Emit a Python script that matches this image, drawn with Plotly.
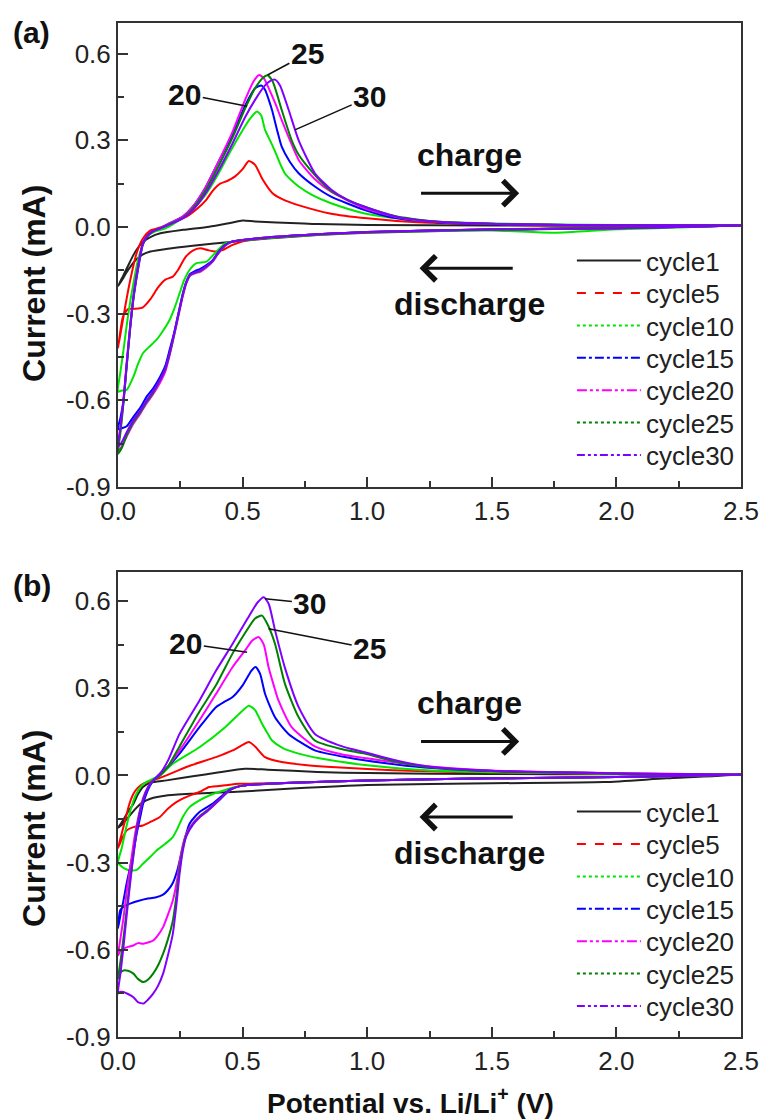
import plotly.graph_objects as go

FONT = "Liberation Sans, Arial, sans-serif"

CYCLES = ["cycle1", "cycle5", "cycle10", "cycle15", "cycle20", "cycle25", "cycle30"]
COLORS = ["#222222", "#ff0000", "#00e600", "#0000ff", "#ff00ff", "#008000", "#8000ff"]
DASHES = ["solid", "dash", "dot", "dashdot", "10px,3px,3px,3px,3px,3px", "3px,3px", "8px,3px,3px,3px,3px,3px"]

X_TICKS = [0.0, 0.5, 1.0, 1.5, 2.0, 2.5]
X_TICKTEXT = ["0.0", "0.5", "1.0", "1.5", "2.0", "2.5"]
Y_TICKS = [-0.9, -0.6, -0.3, 0.0, 0.3, 0.6]
Y_TICKTEXT = ["-0.9", "-0.6", "-0.3", "0.0", "0.3", "0.6"]

# ---------------- panel (a) : each loop = discharge (2.5 -> 0 V) then charge (0 -> 2.5 V)
A1_X = [2.5, 2.0, 1.5, 1.0, 0.8, 0.6, 0.45, 0.3, 0.2, 0.13, 0.1, 0.07, 0.04, 0.015, 0.0,
        0.02, 0.04, 0.06, 0.08, 0.1, 0.13, 0.17, 0.26, 0.366, 0.45, 0.5, 0.55, 0.72, 0.8, 1.0, 1.5, 2.0, 2.5]
A1_Y = [0.005, -0.004, -0.01, -0.02, -0.028, -0.04, -0.052, -0.065, -0.075, -0.085, -0.095, -0.115, -0.15, -0.185, -0.205,
        -0.17, -0.135, -0.1, -0.072, -0.052, -0.035, -0.022, -0.01, 0.001, 0.014, 0.022, 0.019, 0.013, 0.01, 0.007, 0.005, 0.004, 0.005]

A5_X = [2.5, 2.0, 1.5, 1.0, 0.8, 0.6, 0.52, 0.46, 0.42, 0.39, 0.36, 0.33, 0.3, 0.27, 0.24, 0.22, 0.19, 0.16, 0.13, 0.1, 0.07, 0.04, 0.02, 0.008, 0.0,
        0.015, 0.03, 0.05, 0.075, 0.1, 0.13, 0.17, 0.22, 0.275, 0.32, 0.355, 0.38, 0.41, 0.44, 0.47, 0.5, 0.525, 0.55, 0.58, 0.62, 0.67, 0.73, 0.85, 1.0, 1.2, 1.5, 2.0, 2.5]
A5_Y = [0.005, -0.003, -0.008, -0.018, -0.026, -0.038, -0.045, -0.062, -0.08, -0.085, -0.08, -0.074, -0.082, -0.105, -0.15, -0.172, -0.182, -0.21, -0.25, -0.278, -0.283, -0.284, -0.31, -0.37, -0.42,
        -0.345, -0.27, -0.18, -0.09, -0.04, -0.012, -0.002, 0.015, 0.036, 0.065, 0.095, 0.125, 0.15, 0.16, 0.175, 0.2, 0.228, 0.215, 0.165, 0.117, 0.092, 0.074, 0.047, 0.03, 0.016, 0.009, 0.006, 0.005]

A10_X = [2.5, 2.0, 1.75, 1.5, 1.0, 0.8, 0.6, 0.5, 0.43, 0.39, 0.355, 0.313, 0.287, 0.265, 0.247, 0.227, 0.207, 0.18, 0.155, 0.125, 0.1, 0.08, 0.062, 0.035, 0.015, 0.0,
         0.01, 0.022, 0.035, 0.05, 0.065, 0.08, 0.1, 0.12, 0.15, 0.19, 0.24, 0.3, 0.35, 0.4, 0.45, 0.5, 0.53, 0.558, 0.575, 0.59, 0.61, 0.63, 0.65, 0.67, 0.7, 0.725, 0.78, 0.855, 0.99, 1.2, 1.5, 2.0, 2.5]
A10_Y = [0.005, -0.008, -0.02, -0.012, -0.018, -0.027, -0.038, -0.046, -0.057, -0.09, -0.12, -0.126, -0.149, -0.185, -0.23, -0.28, -0.322, -0.36, -0.39, -0.415, -0.437, -0.475, -0.518, -0.564, -0.566, -0.57,
         -0.5, -0.426, -0.34, -0.253, -0.18, -0.114, -0.06, -0.03, -0.015, -0.005, 0.02, 0.06, 0.11, 0.18, 0.26, 0.335, 0.375, 0.4, 0.385, 0.336, 0.3, 0.262, 0.22, 0.185, 0.158, 0.14, 0.11, 0.082, 0.047, 0.022, 0.012, 0.007, 0.005]

A15_X = [2.5, 2.0, 1.5, 1.0, 0.8, 0.6, 0.5, 0.46, 0.43, 0.4, 0.38, 0.355, 0.33, 0.31, 0.29, 0.274, 0.26, 0.247, 0.227, 0.207, 0.19, 0.168, 0.14, 0.115, 0.09, 0.062, 0.035, 0.015, 0.0,
         0.01, 0.022, 0.035, 0.05, 0.065, 0.08, 0.1, 0.12, 0.14, 0.168, 0.2, 0.26, 0.3, 0.35, 0.4, 0.46, 0.51, 0.55, 0.575, 0.59, 0.605, 0.618, 0.64, 0.657, 0.69, 0.725, 0.79, 0.855, 0.99, 1.12, 1.3, 1.6, 2.0, 2.5]
A15_Y = [0.005, -0.004, -0.009, -0.017, -0.025, -0.036, -0.045, -0.05, -0.062, -0.09, -0.115, -0.132, -0.145, -0.152, -0.162, -0.19, -0.23, -0.28, -0.36, -0.426, -0.48, -0.52, -0.56, -0.587, -0.625, -0.657, -0.69, -0.697, -0.70,
         -0.66, -0.6, -0.48, -0.34, -0.23, -0.149, -0.06, -0.03, -0.015, -0.005, 0.01, 0.036, 0.07, 0.135, 0.22, 0.32, 0.42, 0.48, 0.49, 0.475, 0.44, 0.405, 0.33, 0.278, 0.225, 0.186, 0.14, 0.105, 0.059, 0.03, 0.015, 0.008, 0.006, 0.005]

A20_X = [2.5, 2.0, 1.5, 1.0, 0.8, 0.6, 0.5, 0.46, 0.43, 0.4, 0.38, 0.355, 0.33, 0.31, 0.29, 0.274, 0.26, 0.247, 0.227, 0.207, 0.19, 0.168, 0.14, 0.115, 0.09, 0.062, 0.035, 0.015, 0.0,
         0.01, 0.022, 0.035, 0.05, 0.065, 0.08, 0.1, 0.12, 0.14, 0.168, 0.2, 0.26, 0.3, 0.35, 0.4, 0.46, 0.51, 0.545, 0.566, 0.585, 0.605, 0.63, 0.657, 0.69, 0.725, 0.79, 0.855, 0.99, 1.12, 1.3, 1.6, 2.0, 2.5]
A20_Y = [0.005, -0.004, -0.009, -0.017, -0.025, -0.036, -0.045, -0.05, -0.065, -0.095, -0.12, -0.14, -0.155, -0.16, -0.168, -0.195, -0.24, -0.29, -0.37, -0.445, -0.5, -0.54, -0.58, -0.61, -0.645, -0.68, -0.725, -0.76, -0.775,
         -0.7, -0.6, -0.47, -0.33, -0.22, -0.14, -0.055, -0.028, -0.014, -0.005, 0.01, 0.036, 0.07, 0.135, 0.22, 0.33, 0.44, 0.505, 0.526, 0.515, 0.48, 0.43, 0.37, 0.3, 0.232, 0.165, 0.122, 0.065, 0.034, 0.016, 0.009, 0.006, 0.005]

A25_X = [2.5, 2.0, 1.5, 1.0, 0.8, 0.6, 0.5, 0.46, 0.43, 0.4, 0.38, 0.355, 0.33, 0.31, 0.29, 0.274, 0.26, 0.247, 0.227, 0.207, 0.19, 0.168, 0.14, 0.115, 0.09, 0.062, 0.035, 0.015, 0.0,
         0.01, 0.022, 0.035, 0.05, 0.065, 0.08, 0.1, 0.12, 0.14, 0.168, 0.2, 0.26, 0.3, 0.35, 0.4, 0.46, 0.51, 0.55, 0.58, 0.6, 0.62, 0.657, 0.697, 0.725, 0.79, 0.855, 0.92, 0.99, 1.12, 1.3, 1.6, 2.0, 2.5]
A25_Y = [0.005, -0.004, -0.009, -0.017, -0.025, -0.036, -0.045, -0.05, -0.064, -0.093, -0.118, -0.137, -0.152, -0.158, -0.166, -0.193, -0.235, -0.285, -0.365, -0.44, -0.49, -0.53, -0.575, -0.605, -0.64, -0.675, -0.72, -0.765, -0.785,
         -0.71, -0.61, -0.48, -0.34, -0.225, -0.142, -0.056, -0.028, -0.014, -0.005, 0.008, 0.032, 0.063, 0.125, 0.205, 0.31, 0.41, 0.48, 0.515, 0.525, 0.505, 0.405, 0.3, 0.25, 0.18, 0.125, 0.095, 0.07, 0.036, 0.017, 0.009, 0.006, 0.005]

A30_X = [2.5, 2.0, 1.5, 1.0, 0.8, 0.6, 0.5, 0.46, 0.43, 0.4, 0.38, 0.355, 0.33, 0.31, 0.29, 0.274, 0.26, 0.247, 0.227, 0.207, 0.19, 0.168, 0.14, 0.115, 0.09, 0.062, 0.035, 0.015, 0.0,
         0.01, 0.022, 0.035, 0.05, 0.065, 0.08, 0.1, 0.12, 0.14, 0.168, 0.2, 0.26, 0.3, 0.35, 0.4, 0.46, 0.51, 0.55, 0.59, 0.61, 0.63, 0.65, 0.685, 0.725, 0.79, 0.855, 0.922, 0.99, 1.12, 1.3, 1.6, 2.0, 2.5]
A30_Y = [0.005, -0.004, -0.009, -0.017, -0.025, -0.036, -0.045, -0.05, -0.063, -0.092, -0.117, -0.136, -0.15, -0.157, -0.165, -0.192, -0.235, -0.285, -0.362, -0.437, -0.49, -0.53, -0.57, -0.6, -0.635, -0.668, -0.71, -0.745, -0.76,
         -0.69, -0.6, -0.47, -0.335, -0.222, -0.14, -0.056, -0.028, -0.014, -0.005, 0.006, 0.03, 0.058, 0.115, 0.19, 0.29, 0.38, 0.44, 0.49, 0.505, 0.51, 0.49, 0.405, 0.3, 0.186, 0.13, 0.093, 0.07, 0.035, 0.017, 0.009, 0.006, 0.005]

# ---------------- panel (b)
B1_X = [2.5, 2.2, 1.95, 1.5, 1.0, 0.7, 0.46, 0.3, 0.195, 0.13, 0.1, 0.07, 0.04, 0.015, 0.0,
        0.02, 0.04, 0.062, 0.08, 0.1, 0.13, 0.195, 0.3, 0.4, 0.51, 0.6, 0.8, 1.0, 1.5, 2.0, 2.5]
B1_Y = [0.003, -0.01, -0.023, -0.027, -0.033, -0.045, -0.057, -0.063, -0.069, -0.08, -0.092, -0.115, -0.145, -0.17, -0.18,
        -0.155, -0.125, -0.097, -0.065, -0.04, -0.025, -0.017, -0.003, 0.01, 0.023, 0.02, 0.012, 0.008, 0.005, 0.004, 0.003]

B5_X = [2.5, 2.0, 1.5, 1.0, 0.7, 0.55, 0.485, 0.43, 0.366, 0.327, 0.28, 0.234, 0.2, 0.168, 0.13, 0.1, 0.062, 0.035, 0.015, 0.0,
        0.015, 0.03, 0.045, 0.062, 0.08, 0.1, 0.14, 0.195, 0.274, 0.393, 0.46, 0.5, 0.525, 0.55, 0.59, 0.657, 0.75, 0.855, 1.0, 1.2, 1.5, 2.0, 2.5]
B5_Y = [0.003, -0.005, -0.01, -0.017, -0.025, -0.028, -0.029, -0.034, -0.04, -0.057, -0.072, -0.092, -0.115, -0.143, -0.16, -0.172, -0.178, -0.189, -0.22, -0.25,
        -0.2, -0.15, -0.1, -0.063, -0.042, -0.029, -0.017, 0.0, 0.029, 0.063, 0.086, 0.105, 0.115, 0.1, 0.063, 0.046, 0.036, 0.029, 0.022, 0.015, 0.01, 0.006, 0.003]

B10_X = [2.5, 2.0, 1.5, 1.0, 0.7, 0.5, 0.43, 0.366, 0.327, 0.287, 0.26, 0.24, 0.22, 0.19, 0.155, 0.13, 0.1, 0.075, 0.05, 0.025, 0.01, 0.0,
         0.015, 0.03, 0.05, 0.07, 0.09, 0.11, 0.14, 0.17, 0.22, 0.327, 0.43, 0.49, 0.525, 0.55, 0.578, 0.6, 0.618, 0.66, 0.725, 0.855, 1.0, 1.2, 1.5, 2.0, 2.5]
B10_Y = [0.003, -0.005, -0.01, -0.017, -0.025, -0.035, -0.05, -0.069, -0.086, -0.109, -0.143, -0.18, -0.212, -0.235, -0.258, -0.28, -0.304, -0.325, -0.327, -0.32, -0.31, -0.30,
         -0.25, -0.19, -0.12, -0.07, -0.04, -0.025, -0.012, 0.0, 0.04, 0.097, 0.166, 0.215, 0.24, 0.225, 0.178, 0.145, 0.12, 0.095, 0.075, 0.052, 0.035, 0.02, 0.011, 0.006, 0.003]

B15_X = [2.5, 2.0, 1.5, 1.0, 0.7, 0.5, 0.45, 0.38, 0.327, 0.287, 0.26, 0.24, 0.22, 0.2, 0.181, 0.15, 0.115, 0.08, 0.049, 0.025, 0.009, 0.0,
         0.01, 0.022, 0.035, 0.049, 0.062, 0.075, 0.09, 0.1, 0.12, 0.14, 0.168, 0.2, 0.247, 0.327, 0.393, 0.43, 0.46, 0.5, 0.535, 0.552, 0.57, 0.59, 0.63, 0.684, 0.79, 0.9, 0.988, 1.2, 1.5, 2.0, 2.5]
B15_Y = [0.003, -0.005, -0.01, -0.017, -0.025, -0.035, -0.048, -0.097, -0.126, -0.166, -0.247, -0.32, -0.37, -0.395, -0.41, -0.42, -0.424, -0.432, -0.441, -0.45, -0.464, -0.527,
         -0.48, -0.43, -0.37, -0.315, -0.26, -0.2, -0.14, -0.1, -0.05, -0.02, 0.006, 0.03, 0.075, 0.166, 0.235, 0.255, 0.27, 0.31, 0.36, 0.373, 0.35, 0.281, 0.2, 0.143, 0.086, 0.065, 0.052, 0.03, 0.015, 0.007, 0.003]

B20_X = [2.5, 2.0, 1.5, 1.0, 0.7, 0.5, 0.45, 0.4, 0.36, 0.33, 0.3, 0.274, 0.26, 0.247, 0.235, 0.22, 0.2, 0.181, 0.16, 0.141, 0.12, 0.102, 0.08, 0.062, 0.04, 0.022, 0.008, 0.0,
         0.01, 0.022, 0.035, 0.05, 0.065, 0.08, 0.1, 0.12, 0.14, 0.168, 0.2, 0.247, 0.327, 0.393, 0.46, 0.51, 0.54, 0.565, 0.585, 0.604, 0.625, 0.644, 0.697, 0.79, 0.9, 0.99, 1.2, 1.5, 2.0, 2.5]
B20_Y = [0.003, -0.005, -0.01, -0.017, -0.025, -0.035, -0.05, -0.088, -0.118, -0.138, -0.165, -0.2, -0.24, -0.3, -0.37, -0.43, -0.48, -0.522, -0.55, -0.568, -0.575, -0.579, -0.577, -0.585, -0.59, -0.596, -0.605, -0.62,
         -0.56, -0.49, -0.4, -0.31, -0.22, -0.15, -0.08, -0.04, -0.018, 0.0, 0.03, 0.086, 0.19, 0.28, 0.373, 0.43, 0.465, 0.476, 0.45, 0.373, 0.31, 0.258, 0.166, 0.1, 0.072, 0.06, 0.035, 0.017, 0.008, 0.003]

B25_X = [2.5, 2.0, 1.5, 1.0, 0.7, 0.5, 0.45, 0.4, 0.36, 0.33, 0.3, 0.274, 0.26, 0.247, 0.235, 0.22, 0.2, 0.181, 0.16, 0.141, 0.12, 0.102, 0.08, 0.062, 0.04, 0.022, 0.008, 0.0,
         0.01, 0.022, 0.035, 0.05, 0.065, 0.08, 0.1, 0.12, 0.14, 0.168, 0.2, 0.247, 0.327, 0.393, 0.46, 0.51, 0.55, 0.578, 0.6, 0.63, 0.67, 0.725, 0.79, 0.9, 0.99, 1.1, 1.25, 1.5, 2.0, 2.5]
B25_Y = [0.003, -0.005, -0.01, -0.017, -0.025, -0.035, -0.05, -0.09, -0.12, -0.14, -0.168, -0.205, -0.25, -0.32, -0.41, -0.5, -0.565, -0.613, -0.655, -0.682, -0.703, -0.711, -0.7, -0.682, -0.672, -0.671, -0.68, -0.70,
         -0.64, -0.56, -0.46, -0.35, -0.25, -0.16, -0.085, -0.042, -0.018, 0.0, 0.03, 0.1, 0.22, 0.31, 0.42, 0.49, 0.54, 0.55, 0.52, 0.453, 0.315, 0.2, 0.12, 0.09, 0.075, 0.05, 0.028, 0.015, 0.007, 0.003]

B30_X = [2.5, 2.0, 1.5, 1.0, 0.7, 0.5, 0.45, 0.4, 0.36, 0.33, 0.3, 0.274, 0.26, 0.247, 0.235, 0.22, 0.2, 0.181, 0.16, 0.141, 0.12, 0.102, 0.08, 0.062, 0.04, 0.022, 0.008, 0.0,
         0.01, 0.022, 0.035, 0.05, 0.065, 0.08, 0.1, 0.12, 0.14, 0.168, 0.2, 0.247, 0.327, 0.393, 0.46, 0.52, 0.56, 0.585, 0.605, 0.63, 0.67, 0.725, 0.79, 0.9, 0.99, 1.1, 1.25, 1.5, 2.0, 2.5]
B30_Y = [0.003, -0.005, -0.01, -0.017, -0.025, -0.035, -0.05, -0.09, -0.122, -0.142, -0.17, -0.21, -0.26, -0.34, -0.44, -0.545, -0.62, -0.682, -0.725, -0.751, -0.772, -0.785, -0.78, -0.763, -0.752, -0.745, -0.745, -0.75,
         -0.68, -0.59, -0.48, -0.36, -0.255, -0.165, -0.088, -0.043, -0.018, 0.005, 0.05, 0.143, 0.258, 0.36, 0.453, 0.54, 0.595, 0.613, 0.59, 0.5, 0.37, 0.235, 0.143, 0.1, 0.08, 0.055, 0.03, 0.016, 0.007, 0.003]

PANEL_A = [(A1_X, A1_Y), (A5_X, A5_Y), (A10_X, A10_Y), (A15_X, A15_Y), (A20_X, A20_Y), (A25_X, A25_Y), (A30_X, A30_Y)]
PANEL_B = [(B1_X, B1_Y), (B5_X, B5_Y), (B10_X, B10_Y), (B15_X, B15_Y), (B20_X, B20_Y), (B25_X, B25_Y), (B30_X, B30_Y)]

fig = go.Figure()

# pixel helpers (figure 771x1119, plot area 118..748 / 23..1037)
L, R, T, B = 118, 748, 23, 1037
def px_x(p):
    return (p - L) / (R - L)
def px_y(p):
    return (B - p) / (B - T)

legend_layouts = {}
for pi, (panel, xa, ya, row0) in enumerate([(PANEL_A, "x", "y", 260.7), (PANEL_B, "x2", "y2", 811.7)]):
    for i, (xs, ys) in enumerate(panel):
        fig.add_trace(go.Scatter(
            x=xs, y=ys, xaxis=xa, yaxis=ya, mode="lines",
            line=dict(color=COLORS[i], width=2, shape="spline", smoothing=0.6),
            showlegend=False, hoverinfo="skip"))
        lid = "legend" if (pi == 0 and i == 0) else "legend%d" % (pi * 7 + i + 1)
        fig.add_trace(go.Scatter(
            x=[None], y=[None], xaxis=xa, yaxis=ya, mode="lines", name=CYCLES[i],
            line=dict(color=COLORS[i], width=2, dash=DASHES[i]),
            showlegend=True, legend=lid))
        legend_layouts[lid] = dict(
            x=px_x(577), y=px_y(row0 + i * 32.4), xanchor="left", yanchor="middle",
            bgcolor="rgba(0,0,0,0)", itemwidth=64,
            font=dict(family=FONT, size=26, color="#222"))

axis_common = dict(
    showline=True, linewidth=2, linecolor="#333", mirror=True,
    ticks="inside", ticklen=10, tickwidth=2, tickcolor="#333",
    showgrid=False, zeroline=False,
    tickfont=dict(family=FONT, size=26, color="#222"),
)
xa_common = dict(axis_common, range=[0, 2.5], tickvals=X_TICKS, ticktext=X_TICKTEXT, ticklabelstandoff=0,
                 minor=dict(tickvals=[0.25, 0.75, 1.25, 1.75, 2.25], ticks="inside", ticklen=6, tickwidth=2, tickcolor="#333"))
ya_common = dict(axis_common, tickvals=Y_TICKS, ticktext=Y_TICKTEXT,
                 minor=dict(tickvals=[-0.75, -0.45, -0.15, 0.15, 0.45], ticks="inside", ticklen=6, tickwidth=2, tickcolor="#333"))

dom_a = [px_y(487), 1.0]
dom_b = [0.0, px_y(572)]

fig.update_layout(
    width=771, height=1119,
    margin=dict(l=L, r=771 - R, t=T, b=1119 - B),
    paper_bgcolor="white", plot_bgcolor="white",
    font=dict(family=FONT, color="#222"),
    xaxis=dict(xa_common, anchor="y", domain=[0, 1]),
    yaxis=dict(ya_common, anchor="x", domain=dom_a, range=[-0.9, 0.706]),
    xaxis2=dict(xa_common, anchor="y2", domain=[0, 1]),
    yaxis2=dict(ya_common, anchor="x2", domain=dom_b, range=[-0.9, 0.7]),
    **legend_layouts,
)

ann = []
bold = dict(family=FONT, size=30, color="#111")
bold_big = dict(family=FONT, size=32, color="#111")
for xr, yr, labels in [
    ("x", "y", [("20", 0.268, 0.46, 0.518, 0.418), ("25", 0.76, 0.60, 0.6, 0.526), ("30", 1.01, 0.45, 0.71, 0.336)]),
    ("x2", "y2", [("20", 0.272, 0.454, 0.518, 0.424), ("25", 1.01, 0.437, 0.604, 0.505), ("30", 0.77, 0.592, 0.59, 0.608)]),
]:
    for txt, tx, ty, hx, hy in labels:
        ann.append(dict(text="<b>%s</b>" % txt, x=hx, y=hy, ax=tx, ay=ty, xref=xr, yref=yr, axref=xr, ayref=yr,
                        showarrow=True, arrowhead=0, arrowwidth=1.5, arrowcolor="#111", font=bold))
    # charge / discharge arrows and labels
    ann.append(dict(text="", x=1.61, y=0.117, ax=1.21, ay=0.117, xref=xr, yref=yr, axref=xr, ayref=yr,
                    showarrow=True, arrowhead=4, arrowsize=1.6, arrowwidth=3, arrowcolor="#111"))
    ann.append(dict(text="", x=1.21, y=-0.143, ax=1.59, ay=-0.143, xref=xr, yref=yr, axref=xr, ayref=yr,
                    showarrow=True, arrowhead=4, arrowsize=1.6, arrowwidth=3, arrowcolor="#111"))
    ann.append(dict(text="<b>charge</b>", x=1.41, y=0.249, xref=xr, yref=yr, showarrow=False, font=bold_big))
    ann.append(dict(text="<b>discharge</b>", x=1.41, y=-0.268, xref=xr, yref=yr, showarrow=False, font=bold_big))

# panel letters and axis titles (paper coordinates, explicitly centred)
centred = dict(xref="paper", yref="paper", showarrow=False, xanchor="center", yanchor="middle")
ann.append(dict(centred, text="<b>(a)</b>", x=px_x(31), y=px_y(32), font=bold))
ann.append(dict(centred, text="<b>(b)</b>", x=px_x(31), y=px_y(585), font=bold))
for cy in (283, 828):
    ann.append(dict(centred, text="<b>Current (mA)</b>", x=px_x(33), y=px_y(cy), textangle=-90,
                    font=dict(family=FONT, size=32, color="#111")))
ann.append(dict(centred, text="<b>Potential vs. Li/Li<sup>+</sup> (V)</b>", x=px_x(414), y=px_y(1101),
                font=dict(family=FONT, size=28, color="#111")))
fig.update_layout(annotations=ann)

fig.write_html("out.html", config={"displayModeBar": False},
               post_script="document.body.style.margin='0px';document.body.style.overflow='hidden';")
